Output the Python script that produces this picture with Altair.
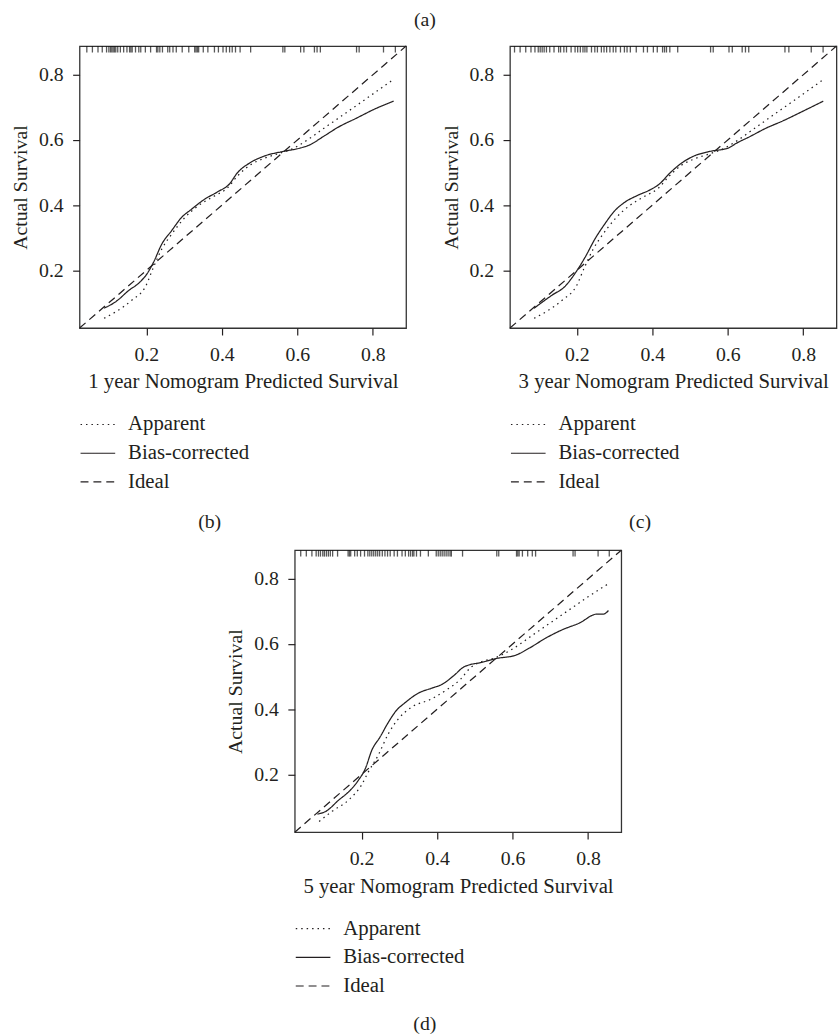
import altair as alt
import pandas as pd

# ---------------- data ----------------
LO, HI = 0.023, 0.888
AXIS_TICKS = [0.2, 0.4, 0.6, 0.8]
SERIES = ["Apparent", "Bias-corrected", "Ideal"]
DASHES = [[1.5, 4], [1, 0], [8, 5]]

# (b) 1 year
p1_app_x = [0.088, 0.119, 0.162, 0.197, 0.219, 0.241, 0.267, 0.302, 0.337, 0.38, 0.415, 0.441,
            0.476, 0.511, 0.555, 0.581, 0.616, 0.668, 0.72, 0.773, 0.855]
p1_app_y = [0.053, 0.073, 0.109, 0.149, 0.21, 0.266, 0.311, 0.362, 0.398, 0.428, 0.453, 0.489,
            0.524, 0.543, 0.56, 0.57, 0.592, 0.634, 0.676, 0.719, 0.786]
p1_bias_x = [0.088, 0.119, 0.154, 0.18, 0.202, 0.219, 0.241, 0.267, 0.293, 0.319, 0.354, 0.389,
             0.42, 0.441, 0.476, 0.511, 0.563, 0.607, 0.633, 0.668, 0.711, 0.755, 0.807, 0.855]
p1_bias_y = [0.084, 0.104, 0.139, 0.161, 0.19, 0.225, 0.281, 0.322, 0.362, 0.387, 0.418, 0.441,
             0.465, 0.499, 0.531, 0.55, 0.565, 0.575, 0.585, 0.61, 0.641, 0.666, 0.696, 0.719]
p1_rug = [0.0422, 0.0570, 0.0718, 0.0831, 0.0945, 0.1006, 0.1049, 0.1084, 0.1119, 0.1154, 0.1189,
          0.1241, 0.1311, 0.1398, 0.1485, 0.1555, 0.159, 0.1624, 0.1712, 0.1799, 0.1851, 0.1973,
          0.2112, 0.2269, 0.2304, 0.2356, 0.2426, 0.2566, 0.2618, 0.2705, 0.2792, 0.2949, 0.3123,
          0.328, 0.3315, 0.335, 0.3385, 0.3507, 0.3629, 0.3803, 0.3908, 0.403, 0.4117, 0.4204,
          0.4274, 0.4361, 0.4483, 0.4762, 0.5616, 0.5668, 0.6086, 0.6173, 0.6452, 0.6522, 0.6609,
          0.7568, 0.7637, 0.8282, 0.8596]

# (c) 3 year
p2_app_x = [0.087, 0.12, 0.163, 0.198, 0.22, 0.243, 0.27, 0.303, 0.338, 0.381, 0.416, 0.443,
            0.478, 0.512, 0.556, 0.582, 0.617, 0.669, 0.72, 0.773, 0.854]
p2_app_y = [0.053, 0.074, 0.11, 0.15, 0.208, 0.264, 0.312, 0.36, 0.397, 0.428, 0.452, 0.487,
            0.523, 0.542, 0.559, 0.57, 0.592, 0.634, 0.676, 0.719, 0.786]
p2_bias_x = [0.0865, 0.1345, 0.169, 0.195, 0.222, 0.248, 0.274, 0.30, 0.326, 0.361, 0.396, 0.418,
             0.448, 0.474, 0.509, 0.553, 0.601, 0.623, 0.658, 0.701, 0.745, 0.797, 0.853]
p2_bias_y = [0.0835, 0.124, 0.151, 0.19, 0.24, 0.296, 0.342, 0.382, 0.408, 0.43, 0.448, 0.464,
             0.50, 0.526, 0.55, 0.565, 0.575, 0.59, 0.61, 0.636, 0.658, 0.687, 0.719]
p2_rug = [0.0351, 0.0499, 0.0648, 0.0787, 0.0892, 0.0979, 0.1031, 0.1083, 0.1136, 0.1197, 0.1284,
          0.1397, 0.1519, 0.1571, 0.1658, 0.1728, 0.185, 0.1955, 0.2024, 0.2094, 0.2164, 0.2216,
          0.2268, 0.239, 0.2478, 0.2547, 0.2652, 0.2722, 0.2791, 0.2878, 0.2966, 0.3035, 0.3157,
          0.3262, 0.3332, 0.3419, 0.3576, 0.3767, 0.3872, 0.4029, 0.4133, 0.4273, 0.4325, 0.4377,
          0.4465, 0.4674, 0.5545, 0.5615, 0.6033, 0.612, 0.6382, 0.6469, 0.6556, 0.7515, 0.7619,
          0.8212, 0.8526]

# (d) 5 year
p3_app_x = [0.0876, 0.122, 0.166, 0.2, 0.218, 0.244, 0.271, 0.297, 0.332, 0.384, 0.427, 0.462,
            0.488, 0.523, 0.554, 0.6, 0.65, 0.7, 0.75, 0.8, 0.855]
p3_app_y = [0.056, 0.087, 0.122, 0.168, 0.208, 0.259, 0.325, 0.37, 0.406, 0.431, 0.461, 0.492,
            0.527, 0.548, 0.558, 0.585, 0.625, 0.665, 0.705, 0.745, 0.786]
p3_bias_x = [0.083, 0.105, 0.14, 0.166, 0.192, 0.21, 0.227, 0.249, 0.271, 0.292, 0.314, 0.353,
             0.384, 0.414, 0.445, 0.471, 0.488, 0.515, 0.558, 0.606, 0.645, 0.689, 0.732, 0.776,
             0.824, 0.841, 0.854]
p3_bias_y = [0.0785, 0.0866, 0.122, 0.147, 0.183, 0.218, 0.274, 0.315, 0.36, 0.396, 0.419, 0.451,
             0.464, 0.477, 0.504, 0.53, 0.537, 0.543, 0.556, 0.565, 0.588, 0.619, 0.644, 0.664,
             0.692, 0.692, 0.703]
p3_rug = [0.0388, 0.0536, 0.0684, 0.0797, 0.0858, 0.0911, 0.0972, 0.1015, 0.1068, 0.112, 0.1172,
          0.1233, 0.1364, 0.1643, 0.1678, 0.1712, 0.1817, 0.1887, 0.1974, 0.2078, 0.2166, 0.2218,
          0.227, 0.2322, 0.2375, 0.2427, 0.2479, 0.2549, 0.2619, 0.2688, 0.2758, 0.2863, 0.295,
          0.3072, 0.3159, 0.3246, 0.3298, 0.3351, 0.3386, 0.3455, 0.356, 0.3769, 0.3978, 0.4031,
          0.4083, 0.4135, 0.4187, 0.424, 0.4292, 0.4344, 0.4379, 0.4675, 0.5582, 0.5634, 0.6105,
          0.6139, 0.6174, 0.6261, 0.6401, 0.6523, 0.661, 0.7603, 0.7656, 0.8266, 0.8562]

# ---------------- styling ----------------
FONT = "Liberation Serif"
INK = "#231f20"
W, H = 330, 285


def panel(app_x, app_y, bias_x, bias_y, rug, xtitle, label, label_offset):
    rows = []
    rows += [{"x": a, "y": b, "series": "Apparent"} for a, b in zip(app_x, app_y)]
    rows += [{"x": a, "y": b, "series": "Bias-corrected"} for a, b in zip(bias_x, bias_y)]
    rows += [{"x": v, "y": v, "series": "Ideal"} for v in (LO, HI)]
    df = pd.DataFrame(rows)

    xscale = alt.Scale(domain=[LO, HI], nice=False, zero=False)
    yscale = alt.Scale(domain=[LO, HI], nice=False, zero=False)
    xaxis = alt.Axis(values=AXIS_TICKS, format=".1f", title=xtitle)
    yaxis = alt.Axis(values=AXIS_TICKS, format=".1f", title="Actual Survival")

    lines = alt.Chart(df).mark_line(strokeWidth=1.25, color=INK, interpolate="monotone").encode(
        x=alt.X("x:Q", scale=xscale, axis=xaxis),
        y=alt.Y("y:Q", scale=yscale, axis=yaxis),
        strokeDash=alt.StrokeDash(
            "series:N",
            scale=alt.Scale(domain=SERIES, range=DASHES),
            legend=alt.Legend(title=None),
        ),
    )
    rugs = alt.Chart(pd.DataFrame({"x": rug})).mark_tick(
        orient="vertical", size=6.5, thickness=1.3, yOffset=3.25, color="#111111"
    ).encode(
        x=alt.X("x:Q", scale=xscale, axis=xaxis),
        y=alt.Y(datum=HI, type="quantitative", scale=yscale, axis=yaxis),
    )
    return alt.layer(lines, rugs).properties(
        width=W, height=H,
        title=alt.Title(label, orient="bottom", anchor="middle", frame="bounds",
                        offset=label_offset),
    )


p1 = panel(p1_app_x, p1_app_y, p1_bias_x, p1_bias_y, p1_rug,
           "1 year Nomogram Predicted Survival", "(b)", 20)
p2 = panel(p2_app_x, p2_app_y, p2_bias_x, p2_bias_y, p2_rug,
           "3 year Nomogram Predicted Survival", "(c)", 20)
p3 = panel(p3_app_x, p3_app_y, p3_bias_x, p3_bias_y, p3_rug,
           "5 year Nomogram Predicted Survival", "(d)", 18)

row1 = alt.hconcat(p1, p2, spacing=30).resolve_scale(strokeDash="independent").resolve_legend(
    strokeDash="independent")

chart = alt.vconcat(
    row1, p3, spacing=13.5, center=True,
    title=alt.Title("(a)", anchor="middle", frame="bounds", offset=13),
).resolve_scale(strokeDash="independent").resolve_legend(strokeDash="independent").properties(
    padding={"left": 10, "top": 4, "right": 0, "bottom": 0}
).configure_axis(
    labelFont=FONT, titleFont=FONT, labelFontSize=20, titleFontSize=21, titleFontWeight="normal",
    labelColor=INK, titleColor=INK, tickColor=INK, tickSize=7, tickWidth=1.2,
    domain=False, grid=False, labelPadding=9.5, titlePadding=7,
).configure_axisY(titleFontSize=20, titlePadding=8).configure_view(
    stroke="#333333", strokeWidth=1.3
).configure_legend(
    orient="bottom", direction="vertical", labelFont=FONT, labelFontSize=21, labelColor=INK,
    symbolType="stroke", symbolSize=1225, symbolStrokeWidth=1.2, symbolStrokeColor=INK,
    clipHeight=21, rowPadding=7, labelOffset=12, offset=22,
).configure_title(
    font=FONT, fontSize=20, fontWeight="normal", color=INK,
)

chart.save("out.html", embed_options={"renderer": "svg", "actions": False})
